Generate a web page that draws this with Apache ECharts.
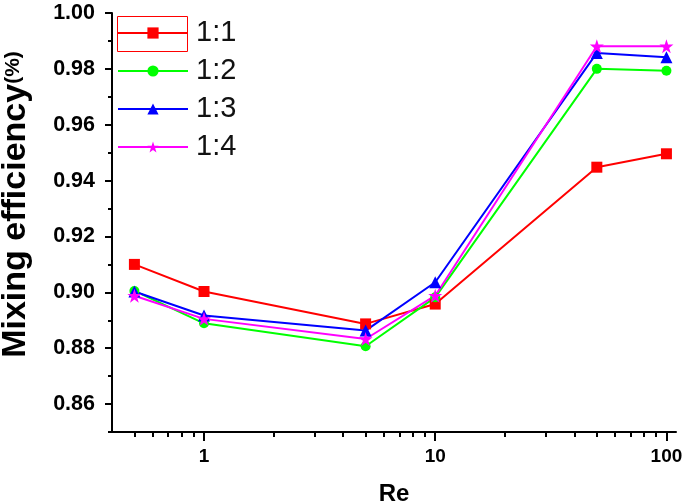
<!DOCTYPE html>
<html>
<head>
<meta charset="utf-8">
<script src="https://cdn.jsdelivr.net/npm/echarts@6/dist/echarts.min.js"></script>
<style>html,body{margin:0;padding:0;background:#fff;}#c{width:685px;height:504px;}</style>
</head>
<body>
<div id="c"></div>
<script>
const reValues = [0.5, 1, 5, 10, 50, 100];
const seriesNames = ['1:1', '1:2', '1:3', '1:4'];
const ratio11 = [0.910, 0.9003, 0.8887, 0.8958, 0.9448, 0.9496];
const ratio12 = [0.9005, 0.8889, 0.8807, 0.8982, 0.9800, 0.9793];
const ratio13 = [0.9003, 0.8917, 0.8863, 0.9036, 0.9857, 0.9842];
const ratio14 = [0.8988, 0.8905, 0.8833, 0.8988, 0.9881, 0.9881];
const xMajorTicks = [1, 10, 100];
const xMinorTicks = [0.5, 0.6, 0.7, 0.8, 0.9, 2, 3, 4, 5, 6, 7, 8, 9, 20, 30, 40, 50, 60, 70, 80, 90];
const yMajorTicks = [0.86, 0.88, 0.90, 0.92, 0.94, 0.96, 0.98, 1.00];
const yMinorTicks = [0.85, 0.87, 0.89, 0.91, 0.93, 0.95, 0.97, 0.99];

const FONT = 'Liberation Sans, Arial, sans-serif';
const colors = ['#ff0000', '#00ff00', '#0000ff', '#ff00ff'];
const symbols = ['rect', 'circle', 'triangle',
  'path://M50,0 L61.8,35.3 L98.9,35.3 L68.9,57.3 L80.3,92.7 L50,70.9 L19.7,92.7 L31.1,57.3 L1.1,35.3 L38.2,35.3 Z'];
const symbolSizes = [11, 10, 12, 14];
const allData = [ratio11, ratio12, ratio13, ratio14];

const chart = echarts.init(document.getElementById('c'), null, {renderer: 'canvas'});

const series = seriesNames.map((name, i) => ({
  name: name,
  type: 'line',
  xAxisIndex: 0,
  yAxisIndex: 0,
  data: reValues.map((x, j) => [x, allData[i][j]]),
  symbol: symbols[i],
  symbolSize: symbolSizes[i],
  showAllSymbol: true,
  lineStyle: {color: colors[i], width: 2},
  itemStyle: {color: colors[i]},
  emphasis: {disabled: true},
  animation: false
}));

const option = {
  animation: false,
  grid: {left: 112, right: 9, top: 13, bottom: 72, containLabel: false, outerBoundsMode: 'none'},
  legend: {
    orient: 'vertical',
    left: 117,
    top: 18,
    padding: 0,
    itemWidth: 70,
    itemHeight: 14,
    itemGap: 8,
    data: seriesNames,
    textStyle: {fontFamily: FONT, fontSize: 29, color: '#111', lineHeight: 30, padding: [0, 0, 0, 3]},
    selectedMode: false
  },
  xAxis: [{
    type: 'log',
    logBase: 10,
    min: 0.4,
    max: 110,
    name: 'Re',
    nameLocation: 'middle',
    nameGap: 50,
    nameTextStyle: {fontFamily: FONT, fontSize: 24, fontWeight: 'bold', color: '#000'},
    axisLine: {show: true, onZero: false, lineStyle: {color: '#000', width: 2}},
    axisTick: {show: true, inside: false, length: 9, lineStyle: {color: '#000', width: 2}, customValues: xMajorTicks},
    axisLabel: {show: true, margin: 15, fontFamily: FONT, fontSize: 19, fontWeight: 'bold', color: '#000', customValues: xMajorTicks,
      formatter: v => String(Math.round(v))},
    splitLine: {show: false},
    minorTick: {show: false}
  }, {
    type: 'log',
    logBase: 10,
    min: 0.4,
    max: 110,
    position: 'bottom',
    axisLine: {show: false, onZero: false},
    axisTick: {show: true, inside: false, length: 5, lineStyle: {color: '#000', width: 2}, customValues: xMinorTicks},
    axisLabel: {show: false},
    splitLine: {show: false}
  }],
  yAxis: [{
    type: 'value',
    min: 0.85,
    max: 1.00,
    name: 'Mixing efficiency{p|(%)}',
    nameLocation: 'middle',
    nameGap: 79,
    nameTextStyle: {fontFamily: FONT, fontSize: 34, fontWeight: 'bold', color: '#000', padding: [0, 0, 0, 36],
      rich: {p: {fontFamily: FONT, fontSize: 21, fontWeight: 'bold', color: '#000', padding: [0, 0, 6, 0]}}},
    axisLine: {show: true, onZero: false, lineStyle: {color: '#000', width: 2}},
    axisTick: {show: true, inside: false, length: 7, lineStyle: {color: '#000', width: 2}, customValues: yMajorTicks},
    axisLabel: {show: true, margin: 17, fontFamily: FONT, fontSize: 21.5, fontWeight: 'bold', color: '#000', customValues: yMajorTicks,
      formatter: v => v.toFixed(2)},
    splitLine: {show: false}
  }, {
    type: 'value',
    min: 0.85,
    max: 1.00,
    position: 'left',
    axisLine: {show: false, onZero: false},
    axisTick: {show: true, inside: false, length: 4, lineStyle: {color: '#000', width: 2}, customValues: yMinorTicks},
    axisLabel: {show: false},
    splitLine: {show: false}
  }],
  graphic: [{
    type: 'rect',
    shape: {x: 117.5, y: 16.5, width: 70, height: 35},
    style: {fill: 'none', stroke: '#ff0000', lineWidth: 1},
    z: 100
  }],
  series: series
};
chart.setOption(option);
</script>
</body>
</html>
